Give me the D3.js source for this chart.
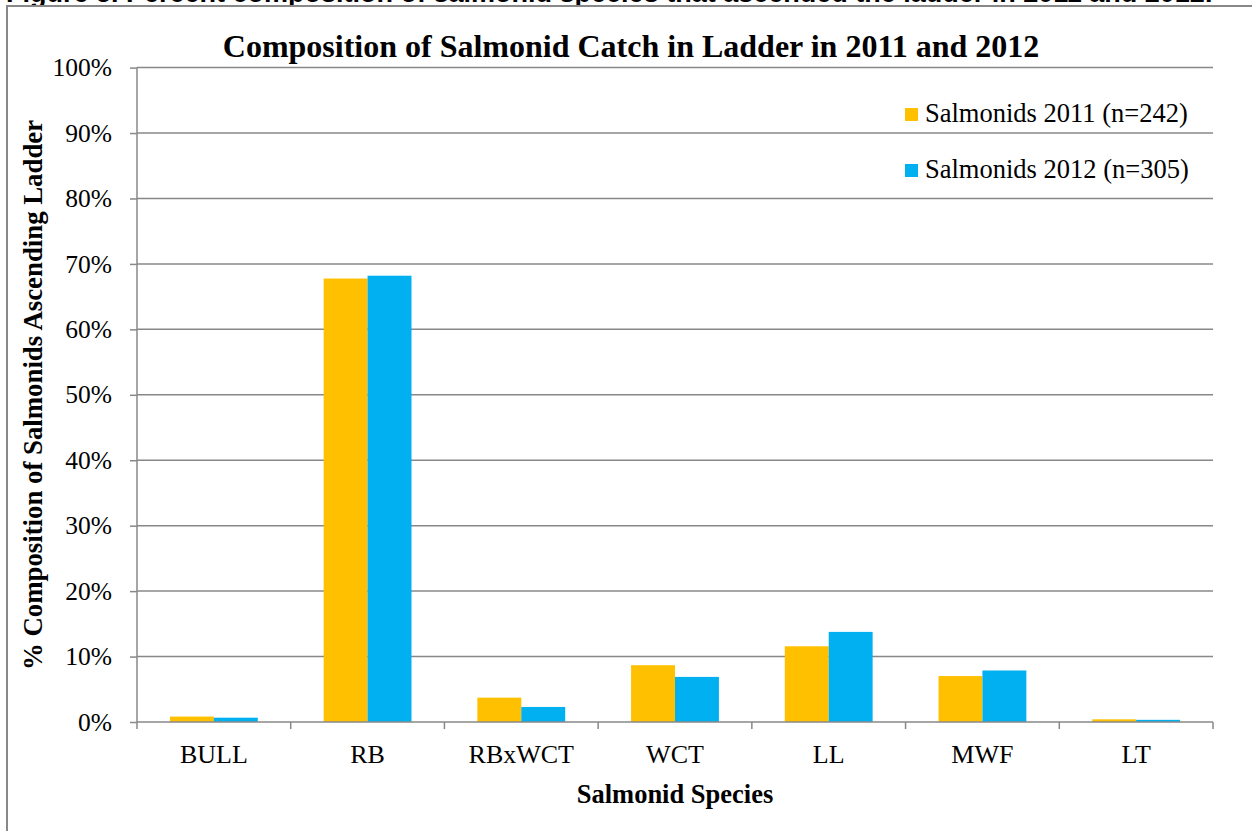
<!DOCTYPE html>
<html>
<head>
<meta charset="utf-8">
<script src="https://cdn.jsdelivr.net/npm/d3@7"></script>
<style>
  html, body { margin: 0; padding: 0; background: #fff; }
  svg { display: block; }
</style>
</head>
<body>
<svg id="chart" width="1252" height="831"></svg>
<script>
// Species caught in the ladder
const categories = ["BULL", "RB", "RBxWCT", "WCT", "LL", "MWF", "LT"];
// Percent of salmonids ascending the ladder, by year
const pct2011 = [0.83, 67.77, 3.72, 8.68, 11.57, 7.02, 0.41];
const pct2012 = [0.66, 68.20, 2.30, 6.89, 13.77, 7.87, 0.33];
const seriesNames = ["Salmonids 2011 (n=242)", "Salmonids 2012 (n=305)"];
const seriesColors = ["#FFC000", "#00B0F0"];
const yTicks = [0, 10, 20, 30, 40, 50, 60, 70, 80, 90, 100];

const svg = d3.select("#chart");
const serif = "'Liberation Serif', 'Times New Roman', serif";
const grey = "#888888";

// Figure caption running off the top of the page
svg.append("text")
  .attr("x", 6).attr("y", 2)
  .attr("font-family", "'Liberation Sans', Arial, sans-serif")
  .attr("font-weight", "bold").attr("font-size", 27)
  .attr("fill", "#000")
  .text("Figure 5. Percent composition of salmonid species that ascended the ladder in 2011 and 2012.");

// Chart frame
svg.append("rect")
  .attr("x", 7).attr("y", 6).attr("width", 1260).attr("height", 840)
  .attr("fill", "#fff").attr("stroke", grey).attr("stroke-width", 2);

const plot = { left: 137, right: 1213, top: 67.6, bottom: 722 };

const x = d3.scaleBand().domain(categories)
  .range([plot.left, plot.right]).paddingInner(0).paddingOuter(0);
const y = d3.scaleLinear().domain([0, 100]).range([plot.bottom, plot.top]);

const barW = x.bandwidth() / 3.5;
const x1 = d3.scaleBand().domain([0, 1])
  .range([(x.bandwidth() - 2 * barW) / 2, (x.bandwidth() + 2 * barW) / 2]);

// Horizontal gridlines
svg.append("g").selectAll("line").data(yTicks.filter(d => d > 0)).join("line")
  .attr("x1", plot.left).attr("x2", plot.right)
  .attr("y1", d => y(d)).attr("y2", d => y(d))
  .attr("stroke", grey).attr("stroke-width", 1.5);

// Y axis
const yAxis = d3.axisLeft(y).tickValues(yTicks).tickFormat(d => d + "%")
  .tickSize(7).tickPadding(18);
const gy = svg.append("g").attr("transform", `translate(${plot.left},0)`).call(yAxis);
gy.select(".domain").attr("stroke", grey).attr("stroke-width", 1.5).attr("d", `M0,${plot.top}V${plot.bottom}`);
gy.selectAll(".tick line").attr("stroke", grey).attr("stroke-width", 1.5);
gy.selectAll(".tick text").attr("font-family", serif).attr("font-size", 25.5).attr("fill", "#000");

// Bars
const data = categories.map((c, i) => ({ cat: c, vals: [pct2011[i], pct2012[i]] }));
const groups = svg.append("g").selectAll("g").data(data).join("g")
  .attr("transform", d => `translate(${x(d.cat)},0)`);
groups.selectAll("rect").data(d => d.vals.map((v, s) => ({ v, s }))).join("rect")
  .attr("x", d => x1(d.s)).attr("width", x1.bandwidth())
  .attr("y", d => y(d.v)).attr("height", d => y(0) - y(d.v))
  .attr("fill", d => seriesColors[d.s]);

// X axis with tick marks on category boundaries
const gx = svg.append("g").attr("transform", `translate(0,${plot.bottom})`);
gx.append("line").attr("x1", plot.left).attr("x2", plot.right)
  .attr("stroke", grey).attr("stroke-width", 1.5);
const bounds = categories.map(c => x(c)).concat([plot.right]);
gx.selectAll("line.tk").data(bounds).join("line").attr("class", "tk")
  .attr("x1", d => d).attr("x2", d => d).attr("y1", 0).attr("y2", 7)
  .attr("stroke", grey).attr("stroke-width", 1.5);
gx.selectAll("text").data(categories).join("text")
  .attr("x", d => x(d) + x.bandwidth() / 2).attr("y", 41)
  .attr("text-anchor", "middle")
  .attr("font-family", serif).attr("font-size", 26).attr("fill", "#000")
  .text(d => d);

// Title
svg.append("text")
  .attr("x", 631).attr("y", 57).attr("text-anchor", "middle")
  .attr("font-family", serif).attr("font-weight", "bold").attr("font-size", 32)
  .text("Composition of Salmonid Catch in Ladder in 2011 and 2012");

// Axis titles
svg.append("text")
  .attr("x", 675).attr("y", 803).attr("text-anchor", "middle")
  .attr("font-family", serif).attr("font-weight", "bold").attr("font-size", 26.5)
  .text("Salmonid Species");
svg.append("text")
  .attr("transform", "translate(42,395) rotate(-90)").attr("text-anchor", "middle")
  .attr("font-family", serif).attr("font-weight", "bold").attr("font-size", 26.8)
  .text("% Composition of Salmonids Ascending Ladder");

// Legend
const legend = svg.append("g").selectAll("g").data(seriesNames).join("g")
  .attr("transform", (d, i) => `translate(905,${108 + i * 56})`);
legend.append("rect").attr("x", 0).attr("y", 0).attr("width", 13).attr("height", 13)
  .attr("fill", (d, i) => seriesColors[i]);
legend.append("text").attr("x", 20).attr("y", 14)
  .attr("font-family", serif).attr("font-size", 26.5).attr("fill", "#000")
  .text(d => d);
</script>
</body>
</html>
